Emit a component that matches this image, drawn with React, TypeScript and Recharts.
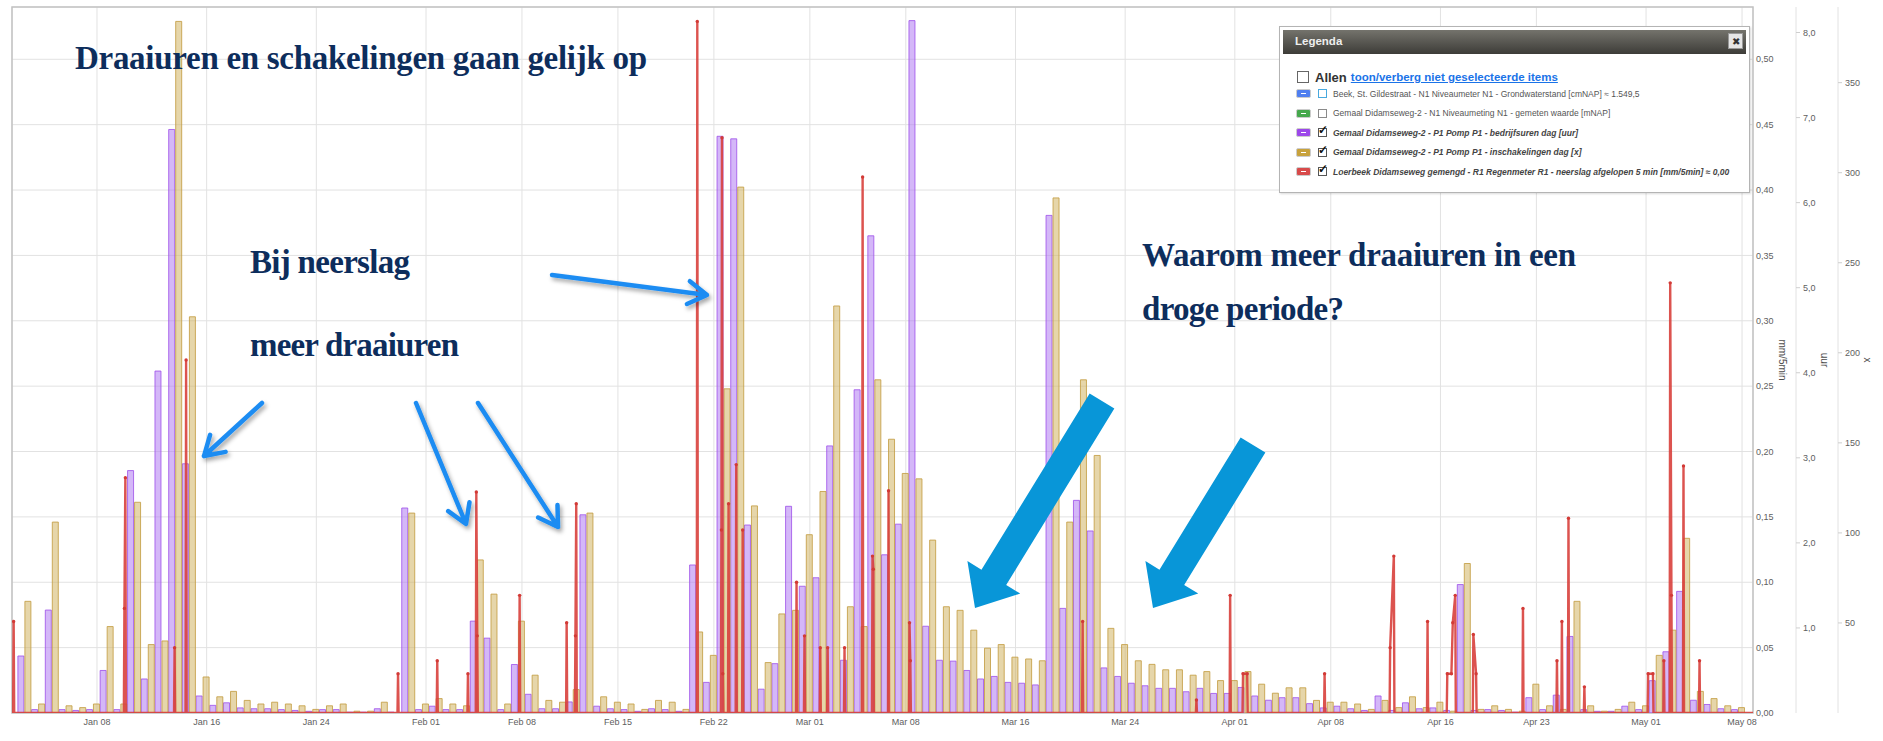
import React from 'react'
import { ComposedChart, Bar, Line, XAxis, YAxis, CartesianGrid, Legend, ReferenceArea } from 'recharts'

const W = 1883
const H = 741

// time axis in days since 1 Jan; daily totals are stamped late in the day
const T_MIN = 0.8
const T_MAX = 127.8
const FIRST_DAY = 1 // 2 Jan
const DAY_STAMP = 0.73

const tickDays = [7, 15, 23, 31, 38, 45, 52, 59, 66, 74, 82, 90, 97, 105, 112, 120, 127]
const tickLabels = ['Jan 08', 'Jan 16', 'Jan 24', 'Feb 01', 'Feb 08', 'Feb 15', 'Feb 22', 'Mar 01', 'Mar 08',
    'Mar 16', 'Mar 24', 'Apr 01', 'Apr 08', 'Apr 16', 'Apr 23', 'May 01', 'May 08']

// bedrijfsuren per dag [uur], 2 Jan .. 7 May
const pumpHours = [
    0.67, 0.04, 1.21, 0.04, 0.03, 0.04, 0.50, 0.04, 2.85, 0.40,
    4.02, 6.86, 2.93, 0.20, 0.09, 0.12, 0.06, 0.05, 0.05, 0.04,
    0.03, 0.02, 0.04, 0.04, 0.01, 0.01, 0.05, 0.01, 2.41, 0.04,
    0.08, 0.04, 0.04, 1.08, 0.88, 0.04, 0.57, 0.22, 0.05, 0.05,
    0.13, 2.33, 0.08, 0.05, 0.04, 0.02, 0.05, 0.04, 0.02, 1.74,
    0.36, 6.78, 6.75, 2.21, 0.28, 0.58, 2.43, 1.49, 1.59, 3.14,
    0.62, 3.80, 5.61, 1.86, 2.22, 8.14, 1.02, 0.62, 0.61, 0.50,
    0.40, 0.43, 0.36, 0.35, 0.33, 5.85, 1.23, 2.50, 2.14, 0.53,
    0.43, 0.35, 0.32, 0.29, 0.29, 0.25, 0.29, 0.23, 0.23, 0.30,
    0.20, 0.15, 0.18, 0.18, 0.11, 0.06, 0.08, 0.05, 0.03, 0.20,
    0.03, 0.12, 0.05, 0.06, 0.03, 1.51, 0.03, 0.04, 0.03, 0.01,
    0.18, 0.04, 0.21, 0.90, 0.04, 0.02, 0.02, 0.08, 0.04, 0.38,
    0.72, 1.43, 0.15, 0.10, 0.05, 0.04,
]

// inschakelingen per dag [x]
const switchCounts = [
    62, 5, 106, 4, 3, 5, 48, 5, 117, 38,
    40, 384, 220, 20, 9, 12, 7, 5, 6, 5,
    4, 2, 4, 5, 1, 1, 6, 0, 111, 5,
    8, 5, 4, 85, 66, 5, 51, 21, 7, 6,
    13, 111, 9, 6, 5, 2, 7, 6, 2, 45,
    32, 180, 292, 115, 28, 55, 57, 99, 123, 226,
    59, 48, 185, 152, 133, 130, 96, 59, 57, 46,
    36, 38, 31, 30, 29, 286, 106, 185, 143, 47,
    38, 29, 27, 24, 24, 21, 23, 18, 18, 23,
    16, 11, 14, 14, 7, 6, 6, 5, 2, 7,
    3, 9, 3, 6, 1, 83, 2, 4, 2, 1,
    16, 4, 2, 62, 4, 1, 2, 6, 4, 32,
    46, 97, 12, 8, 4, 3,
]

// neerslag [mm/5min]: showers as [day, value] readings, dry in between
const rainShowers: [number, number][][] = [
    [[0.92, 0.07]],
    [[9.0, 0.08], [9.07, 0.18]],
    [[12.66, 0.05]],
    [[13.5, 0.27]],
    [[28.96, 0.03]],
    [[31.82, 0.04]],
    [[34.06, 0.03]],
    [[34.67, 0.169], [34.74, 0.059]],
    [[37.83, 0.09]],
    [[41.26, 0.069]],
    [[41.9, 0.059], [41.96, 0.16]],
    [[50.79, 0.529]],
    [[52.55, 0.14], [52.59, 0.44], [52.65, 0.03]],
    [[53.07, 0.16]],
    [[53.63, 0.19]],
    [[54.1, 0.14]],
    [[58.03, 0.1]],
    [[58.61, 0.059]],
    [[59.76, 0.05]],
    [[60.3, 0.05]],
    [[61.53, 0.05]],
    [[62.85, 0.41]],
    [[63.57, 0.12], [63.63, 0.11]],
    [[64.74, 0.17]],
    [[66.27, 0.069], [66.33, 0.04]],
    [[78.9, 0.07]],
    [[87.2, 0.01]],
    [[89.66, 0.09]],
    [[90.6, 0.03], [90.9, 0.03]],
    [[96.55, 0.03]],
    [[101.33, 0.05], [101.6, 0.12]],
    [[104.06, 0.07]],
    [[105.5, 0.03], [105.8, 0.03], [105.9, 0.069], [106.08, 0.09]],
    [[107.4, 0.06], [107.6, 0.03]],
    [[111.02, 0.08]],
    [[113.5, 0.04]],
    [[113.86, 0.07]],
    [[114.34, 0.149]],
    [[115.5, 0.02]],
    [[120.15, 0.03], [120.5, 0.03]],
    [[121.3, 0.04]],
    [[121.76, 0.329], [121.85, 0.09]],
    [[122.73, 0.189]],
    [[123.9, 0.04]],
]

const mmTicks = [0, 0.05, 0.1, 0.15, 0.2, 0.25, 0.3, 0.35, 0.4, 0.45, 0.5]
const uurTicks = [1, 2, 3, 4, 5, 6, 7, 8]
const xTicks = [50, 100, 150, 200, 250, 300, 350]

const legendRows = [
    { color: '#4f7ff0', box: '#49a9de', checked: false, label: 'Beek, St. Gildestraat - N1 Niveaumeter N1 - Grondwaterstand [cmNAP] ≈ 1.549,5' },
    { color: '#45a84c', box: '#8a8a8a', checked: false, label: 'Gemaal Didamseweg-2 - N1 Niveaumeting N1 - gemeten waarde [mNAP]' },
    { color: '#9c48ea', box: '#555', checked: true, label: 'Gemaal Didamseweg-2 - P1 Pomp P1 - bedrijfsuren dag [uur]' },
    { color: '#c8a23c', box: '#555', checked: true, label: 'Gemaal Didamseweg-2 - P1 Pomp P1 - inschakelingen dag [x]' },
    { color: '#d84a4a', box: '#555', checked: true, label: 'Loerbeek Didamseweg gemengd - R1 Regenmeter R1 - neerslag afgelopen 5 min [mm/5min] ≈ 0,00' },
]

const dailyData = pumpHours.map((h, i) => ({ t: FIRST_DAY + i + DAY_STAMP, uur: h, x: switchCounts[i] }))

const rainData = [
    { t: T_MIN, mm: 0 },
    ...rainShowers.flatMap((s) => [
        { t: s[0][0] - 0.04, mm: 0 },
        ...s.map(([t, mm]) => ({ t, mm })),
        { t: s[s.length - 1][0] + 0.04, mm: 0 },
    ]),
    { t: T_MAX, mm: 0 },
]

const comma = (v: number, d: number) => v.toFixed(d).replace('.', ',')
const tickFont = { fill: '#606060', fontSize: 9, fontFamily: 'Liberation Sans, Arial, sans-serif' }
const titleFont = { fill: '#4d4d4d', fontSize: 10, fontFamily: 'Liberation Sans, Arial, sans-serif' }

function LegendBox() {
    return (
        <div style={{ width: 471, height: 167, boxSizing: 'border-box', border: '1px solid #b4b4b4', background: '#fff',
            fontFamily: 'Liberation Sans, Arial, sans-serif', padding: 3, boxShadow: '1px 1px 2px rgba(0,0,0,0.15)' }}>
            <div style={{ height: 24, background: 'linear-gradient(#74736c, #3d3c38)', position: 'relative' }}>
                <span style={{ position: 'absolute', left: 12, top: 5, color: '#eee', fontSize: 11.5, fontWeight: 'bold' }}>Legenda</span>
                <span style={{ position: 'absolute', right: 3, top: 3, width: 15, height: 16, background: '#e6e6e6',
                    border: '1px solid #999', fontSize: 10, lineHeight: '16px', textAlign: 'center', color: '#333', boxSizing: 'border-box' }}>✖</span>
            </div>
            <div style={{ display: 'flex', alignItems: 'center', marginTop: 16, marginLeft: 14, height: 14 }}>
                <span style={{ width: 10, height: 10, border: '1px solid #666', display: 'inline-block', marginRight: 6 }} />
                <span style={{ fontSize: 13, fontWeight: 'bold', color: '#333', marginRight: 4 }}>Allen</span>
                <span style={{ fontSize: 11.5, fontWeight: 'bold', color: '#1a73e8', textDecoration: 'underline' }}>toon/verberg niet geselecteerde items</span>
            </div>
            {legendRows.map((r) => (
                <div key={r.label} style={{ display: 'flex', alignItems: 'center', height: 19.5, marginLeft: 13 }}>
                    <span style={{ width: 15, height: 9, background: r.color, borderRadius: 2, border: '1px solid #ccc',
                        display: 'inline-flex', alignItems: 'center', justifyContent: 'center', marginRight: 7, boxSizing: 'border-box' }}>
                        <span style={{ width: 5, height: 1, background: '#fff' }} />
                    </span>
                    <span style={{ width: 9, height: 9, border: `1px solid ${r.box}`, display: 'inline-block', marginRight: 6,
                        position: 'relative', boxSizing: 'border-box' }}>
                        {r.checked && <span style={{ position: 'absolute', left: -1, top: -6, fontSize: 12, fontWeight: 'bold', color: '#111' }}>✓</span>}
                    </span>
                    <span style={{ fontSize: 8.5, color: r.checked ? '#444' : '#555', fontStyle: r.checked ? 'italic' : 'normal',
                        fontWeight: r.checked ? 'bold' : 'normal', whiteSpace: 'nowrap' }}>{r.label}</span>
                </div>
            ))}
        </div>
    )
}

function thinArrow(x1: number, y1: number, x2: number, y2: number) {
    const a = Math.atan2(y2 - y1, x2 - x1)
    const l = 22
    const p1 = [x2 - l * Math.cos(a - 0.55), y2 - l * Math.sin(a - 0.55)]
    const p2 = [x2 - l * Math.cos(a + 0.55), y2 - l * Math.sin(a + 0.55)]
    return `M${x1},${y1} L${x2},${y2} M${p1[0]},${p1[1]} L${x2},${y2} L${p2[0]},${p2[1]}`
}

function bigArrow(x1: number, y1: number, x2: number, y2: number, shaft: number, headW: number, headL: number) {
    const L = Math.hypot(x2 - x1, y2 - y1)
    const ux = (x2 - x1) / L, uy = (y2 - y1) / L
    const px = -uy, py = ux
    const bx = x2 - ux * headL, by = y2 - uy * headL
    const s = shaft / 2, h = headW / 2
    return [
        [x1 + px * s, y1 + py * s], [bx + px * s, by + py * s], [bx + px * h, by + py * h], [x2, y2],
        [bx - px * h, by - py * h], [bx - px * s, by - py * s], [x1 - px * s, y1 - py * s],
    ].map((p) => p.join(',')).join(' ')
}

const noteStyle = { fontFamily: 'Liberation Serif, serif', fontWeight: 'bold' as const, fontSize: 33, fill: '#0d2d5c' }

function Notes() {
    return (
        <svg width={W} height={H} style={{ position: 'absolute', left: 0, top: 0, pointerEvents: 'none' }}>
            <defs>
                <filter id="sh" x="-20%" y="-20%" width="140%" height="140%">
                    <feDropShadow dx="2" dy="3" stdDeviation="2" floodColor="#000" floodOpacity="0.35" />
                </filter>
            </defs>
            <text x={75} y={69} textLength={572} lengthAdjust="spacing" style={noteStyle}>Draaiuren en schakelingen gaan gelijk op</text>
            <text x={250} y={273} textLength={160} lengthAdjust="spacing" style={noteStyle}>Bij neerslag</text>
            <text x={250} y={356} textLength={209} lengthAdjust="spacing" style={noteStyle}>meer draaiuren</text>
            <text x={1142} y={266} textLength={434} lengthAdjust="spacing" style={noteStyle}>Waarom meer draaiuren in een</text>
            <text x={1142} y={320} textLength={202} lengthAdjust="spacing" style={noteStyle}>droge periode?</text>
            <g stroke="#1c8cf2" strokeWidth={4.5} fill="none" strokeLinecap="round" strokeLinejoin="round" filter="url(#sh)">
                <path d={thinArrow(262, 403, 204, 456)} />
                <path d={thinArrow(416, 403, 466, 524)} />
                <path d={thinArrow(478, 403, 558, 527)} />
                <path d={thinArrow(552, 275, 707, 295)} />
            </g>
            <g fill="#0896d8">
                <polygon points={bigArrow(1102, 401, 975, 608, 29, 62, 36)} />
                <polygon points={bigArrow(1253, 445, 1153, 608, 29, 62, 36)} />
            </g>
        </svg>
    )
}

export default function App() {
    return (
        <div style={{ position: 'absolute', left: 0, top: 0, width: W, height: H, background: '#fff' }}>
            <ComposedChart width={W} height={H} data={dailyData} margin={{ top: 7, right: 5, bottom: 0, left: 12 }}
                barSize={6} barGap={1}>
                <CartesianGrid xAxisId="time" yAxisId="mm" stroke="#e2e2e2" />
                <XAxis xAxisId="bars" dataKey="t" type="number" domain={[T_MIN, T_MAX]} allowDataOverflow hide height={0} />
                <XAxis xAxisId="time" dataKey="t" type="number" domain={[T_MIN, T_MAX]} allowDataOverflow
                    ticks={tickDays} tickFormatter={(v) => tickLabels[tickDays.indexOf(v)] ?? ''}
                    height={28} tickLine={false} axisLine={false} tickSize={0} tickMargin={6} tick={tickFont} />
                <YAxis yAxisId="mm" orientation="right" width={43} domain={[0, 0.54]} allowDataOverflow ticks={mmTicks}
                    tickFormatter={(v) => comma(v, 2)} tickSize={0} tickMargin={3} axisLine={false} tick={tickFont}
                    label={{ value: 'mm/5min', angle: 90, position: 'center', dx: 8, style: titleFont }} />
                <YAxis yAxisId="uur" orientation="right" width={42} domain={[0, 8.3]} allowDataOverflow ticks={uurTicks}
                    tickFormatter={(v) => comma(v, 1)} tickSize={4} tickMargin={3} tick={tickFont}
                    axisLine={{ stroke: '#e2e2e2' }} tickLine={{ stroke: '#cfcfcf' }}
                    label={{ value: 'uur', angle: 90, position: 'center', dx: 8, style: titleFont }} />
                <YAxis yAxisId="x" orientation="right" width={40} domain={[0, 392]} allowDataOverflow ticks={xTicks}
                    tickSize={4} tickMargin={3} tick={tickFont}
                    axisLine={{ stroke: '#e2e2e2' }} tickLine={{ stroke: '#cfcfcf' }}
                    label={{ value: 'x', angle: 90, position: 'center', dx: 10, style: titleFont }} />
                <ReferenceArea xAxisId="time" yAxisId="mm" x1={T_MIN} x2={T_MAX} y1={0} y2={0.54}
                    fill="none" stroke="#c2c2c2" strokeWidth={1.5} />
                <Line xAxisId="time" yAxisId="mm" data={rainData} dataKey="mm" type="linear" stroke="#d8403c"
                    strokeWidth={2.4} strokeOpacity={0.9} isAnimationActive={false}
                    dot={(p: any) => p.payload.mm > 0
                        ? <circle key={p.index} cx={p.cx} cy={p.cy} r={1.7} fill="#d23a36" />
                        : <g key={p.index} />} activeDot={false} />
                <Bar xAxisId="bars" yAxisId="uur" dataKey="uur" fill="#b07cf3" fillOpacity={0.55}
                    stroke="#9d4fea" strokeOpacity={0.8} strokeWidth={1} isAnimationActive={false} />
                <Bar xAxisId="bars" yAxisId="x" dataKey="x" fill="#d2b565" fillOpacity={0.55}
                    stroke="#c49f45" strokeOpacity={0.85} strokeWidth={1} isAnimationActive={false} />
                <Legend layout="horizontal" verticalAlign="middle" align="center" width={471}
                    wrapperStyle={{ left: 1279, top: 26, width: 471, height: 167 }} content={() => <LegendBox />} />
            </ComposedChart>
            <Notes />
        </div>
    )
}
